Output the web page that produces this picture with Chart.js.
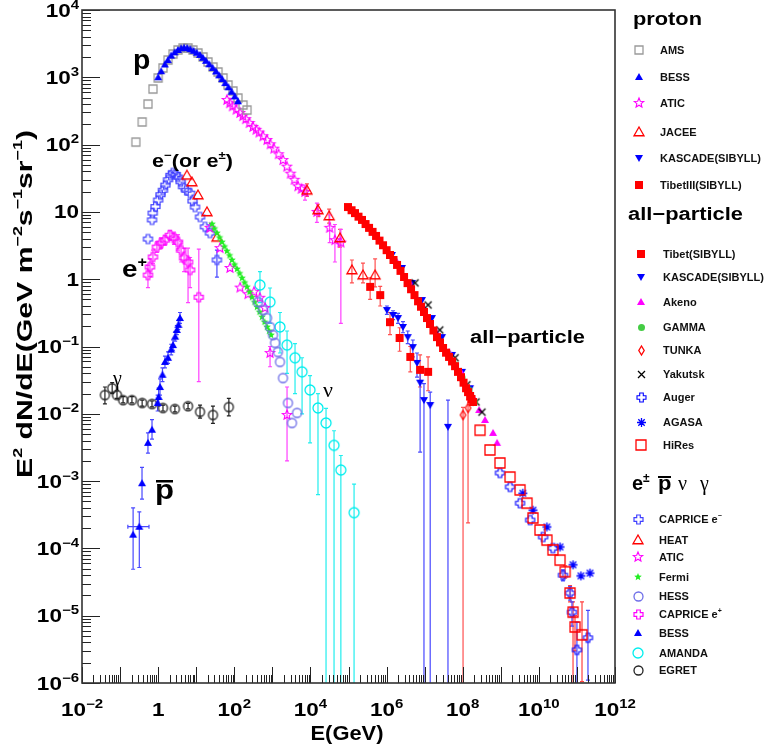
<!DOCTYPE html>
<html>
<head>
<meta charset="utf-8">
<script src="https://cdn.jsdelivr.net/npm/chart.js@4.4.0/dist/chart.umd.min.js"></script>
<style>
  body { margin: 0; background: #fff; }
  canvas { display: block; }
</style>
</head>
<body>
<canvas id="crChart" width="773" height="749" style="width:773px;height:749px"></canvas>
<script>
// ---------------- data (E in GeV, E^2 dN/dE in GeV m^-2 s^-1 sr^-1) ----------------

// proton
const amsE = [0.26, 0.38, 0.54, 0.73, 1.0, 1.34, 1.82, 2.46, 3.33, 4.5, 6.1, 8.2, 11.1, 15.1, 20.4, 27.6, 37.4, 50.6, 68.4, 92.5, 125, 170, 216];
const amsF = [109, 217, 401, 670, 977, 1375, 1807, 2218, 2547, 2725, 2725, 2547, 2297, 2003, 1688, 1422, 1199, 977, 769, 626, 492, 387, 326];

const bessE = [1.0, 1.2, 1.5, 1.8, 2.2, 2.7, 3.3, 4.0, 4.8, 5.8, 7.0, 8.5, 10.3, 12.5, 15, 18, 22, 27, 33, 40, 48, 58, 70, 85, 103, 125];
const bessF = [1000, 1230, 1550, 1800, 2100, 2350, 2550, 2700, 2760, 2720, 2620, 2480, 2320, 2150, 1950, 1760, 1560, 1380, 1220, 1070, 940, 820, 710, 610, 520, 440];

const aticPE = [64, 76, 90, 113, 141, 168, 200, 250, 309, 375, 450, 570, 724, 890, 1100, 1450, 1910, 2400, 3000, 3800, 4700, 5800, 7200, 14800, 32000, 44000, 63000];
const aticPF = [460, 412, 370, 330, 295, 265, 239, 209, 183, 166, 151, 133, 117, 101, 87, 72, 59, 47, 37, 30, 24, 22, 19.8, 10.0, 5.8, 3.8, 3.5];
const aticPLo = [null, null, null, null, null, null, null, null, null, null, null, null, null, null, null, null, null, null, null, null, null, null, 15, 7.0, 3.5, 1.8, 0.22];
const aticPHi = [null, null, null, null, null, null, null, null, null, null, null, null, null, null, null, null, null, null, null, null, null, null, 25, 13.5, 9, 6.5, 5.5];

const jaceeE = [8100, 15800, 31000, 60000, 1.23e5, 2.4e5, 5.0e5];
const jaceeF = [21, 10.7, 8.7, 4.1, 1.37, 1.15, 1.15];
const jaceeLo = [17, 8.5, 6.8, 3.0, 0.88, 0.88, 0.77];
const jaceeHi = [26, 13, 11, 5.5, 1.93, 1.73, 2.0];

const kasPE = [1.02e6, 1.48e6, 2.0e6, 2.7e6, 3.6e6, 4.9e6, 6.3e6, 7.6e6, 9.6e6, 1.4e7, 4.1e7];
const kasPF = [0.348, 0.294, 0.265, 0.195, 0.138, 0.098, 0.057, 0.029, 0.016, 0.0135, 0.0064];
const kasPLo = [0.30, 0.25, 0.22, 0.16, 0.11, 0.07, 0.035, 0.0027, 1e-8, 1e-8, 1e-8];
const kasPHi = [0.40, 0.34, 0.31, 0.235, 0.17, 0.125, 0.08, 0.045, 0.028, 0.021, 0.016];

const tibet3E = [3.7e5, 6.8e5, 1.23e6, 2.2e6, 4.2e6, 7.6e6, 1.23e7];
const tibet3F = [0.77, 0.58, 0.23, 0.134, 0.07, 0.045, 0.042];
const tibet3Lo = [0.50, 0.40, 0.15, 0.085, 0.042, 0.025, 0.022];
const tibet3Hi = [1.05, 0.78, 0.32, 0.19, 0.10, 0.075, 0.07];

// all-particle
const tibetE = [9.7e4, 1.2e5, 1.48e5, 1.83e5, 2.26e5, 2.8e5, 3.46e5, 4.27e5, 5.28e5, 6.5e5, 8.06e5, 1.0e6, 1.23e6, 1.52e6, 1.88e6, 2.32e6, 2.87e6, 3.55e6, 4.39e6, 5.4e6, 6.7e6, 8.0e6, 9.6e6, 1.15e7, 1.38e7, 1.7e7, 2.11e7, 2.53e7, 3.04e7, 3.65e7, 4.37e7, 5.25e7, 6.28e7, 7.5e7, 9.0e7, 1.05e8, 1.22e8, 1.38e8, 1.56e8, 1.7e8, 1.87e8];
const tibetF = [11.8, 10.6, 9.6, 8.5, 7.6, 6.6, 5.8, 5.05, 4.4, 3.75, 3.2, 2.7, 2.29, 1.93, 1.63, 1.33, 1.08, 0.875, 0.71, 0.58, 0.47, 0.39, 0.326, 0.265, 0.216, 0.173, 0.138, 0.115, 0.095, 0.081, 0.070, 0.060, 0.051, 0.042, 0.035, 0.029, 0.024, 0.021, 0.0184, 0.0166, 0.015];

const kasE = [1.38e6, 2.54e6, 4.65e6, 8.5e6, 1.56e7, 2.86e7, 5.25e7, 9.6e7, 1.56e8];
const kasF = [2.29, 1.47, 0.88, 0.49, 0.265, 0.138, 0.075, 0.042, 0.024];

const akenoE = [1.88e6, 4.4e6, 9.6e6, 2.1e7, 4.4e7, 9.0e7, 1.74e8, 2.7e8, 3.85e8, 6.25e8, 8.0e8];
const akenoF = [1.8, 0.82, 0.373, 0.158, 0.083, 0.042, 0.019, 0.0114, 0.0081, 0.0052, 0.0037];

const gammaE = [3.9e7, 6.3e7, 9.6e7, 1.46e8, 2.0e8];
const gammaF = [0.080, 0.053, 0.034, 0.0226, 0.015];

const tunkaE = [1.02e8, 1.38e8];
const tunkaF = [0.0096, 0.0122];
const tunkaLo = [1e-8, 2.4e-4];
const tunkaHi = [0.0125, 0.016];

const yakE = [5.6e6, 1.23e7, 2.5e7, 6.3e7, 1.29e8, 2.24e8, 3.2e8];
const yakF = [0.88, 0.414, 0.176, 0.068, 0.027, 0.015, 0.0106];

const augerE = [9.5e8, 1.75e9, 3.2e9, 5.9e9, 1.29e10, 2.34e10, 4.3e10, 6.6e10, 7.4e10, 1.0e11, 1.95e11];
const augerF = [1.32e-3, 8.2e-4, 4.7e-4, 2.64e-4, 1.48e-4, 1.01e-4, 4.0e-5, 2.17e-5, 1.13e-5, 3.1e-6, 4.7e-6];
const augerLo = [null, null, null, null, null, null, 3.3e-5, 1.7e-5, 7e-6, 1e-8, 1.1e-6];
const augerHi = [null, null, null, null, null, null, 4.8e-5, 2.7e-5, 1.6e-5, 8e-6, 1.2e-5];

const agasaE = [3.8e9, 7.0e9, 1.63e10, 3.6e10, 7.9e10, 1.27e11, 2.2e11];
const agasaF = [6.6e-4, 3.7e-4, 2.08e-4, 1.05e-4, 5.7e-5, 3.9e-5, 4.3e-5];

const hiresE = [2.85e8, 5.2e8, 9.5e8, 1.75e9, 3.2e9, 4.9e9, 7.0e9, 1.07e10, 1.63e10, 2.34e10, 3.6e10, 4.9e10, 6.6e10, 7.9e10, 8.9e10, 1.36e11];
const hiresF = [5.7e-3, 2.9e-3, 1.86e-3, 1.15e-3, 7.4e-4, 4.7e-4, 2.83e-4, 1.88e-4, 1.33e-4, 9.5e-5, 6.7e-5, 4.5e-5, 2.17e-5, 1.13e-5, 6.8e-6, 5.2e-6];
const hiresLo = [null, null, null, null, null, null, null, null, null, null, null, 3.6e-5, 1.6e-5, 1e-8, 3e-6, 1.05e-6];
const hiresHi = [null, null, null, null, null, null, null, null, null, null, null, 5.5e-5, 2.8e-5, 1.6e-5, 1.0e-5, 1.6e-5];

// e+-, pbar, nu, gamma
const capEmE = [0.54, 0.69, 0.72, 0.85, 1.0, 1.15, 1.34, 1.55, 1.82, 2.1, 2.46, 2.9, 3.3, 3.9, 4.5, 5.5, 6.9, 8.0, 9.3, 12.6, 17, 23, 35];
const capEmF = [3.95, 7.6, 9.6, 12, 15, 18, 21, 25, 30, 35, 38, 36, 33, 28, 23.6, 21, 19, 14.5, 11.8, 8.4, 6.0, 4.85, 1.93];
const capEmLo = [null, null, null, null, null, null, null, null, null, null, null, null, null, null, null, null, null, null, null, null, null, null, 1.07];
const capEmHi = [null, null, null, null, null, null, null, null, null, null, null, null, null, null, null, null, null, null, null, null, null, null, 2.7];

const heatE = [5.7, 7.7, 11.1, 19.2, 35];
const heatF = [35, 27.8, 17.8, 10, 4.2];

const aticEE = [23, 42, 77, 142, 230, 330, 470, 640, 870, 2430];
const aticEF = [5.8, 2.9, 1.47, 0.75, 0.60, 0.65, 0.53, 0.375, 0.080, 0.0096];
const aticELo = [null, null, null, null, null, null, null, null, 0.05, 0.002];
const aticEHi = [null, null, null, null, null, null, null, null, 0.10, 0.025];

const fermiE = [26, 30, 35, 41, 47.5, 55, 64, 75, 87, 101, 118, 138, 160, 186, 216, 251, 292, 340, 395, 460, 535, 622, 724, 820, 922];
const fermiF = [6.6, 5.65, 4.85, 4.15, 3.57, 3.05, 2.62, 2.25, 1.93, 1.65, 1.42, 1.22, 1.04, 0.89, 0.77, 0.645, 0.54, 0.455, 0.386, 0.325, 0.274, 0.231, 0.195, 0.17, 0.148];

const hessE = [420, 568, 724, 870, 1040, 1175, 1400, 1585, 1900, 2570, 3280, 4450];
const hessF = [0.458, 0.348, 0.265, 0.195, 0.148, 0.113, 0.083, 0.059, 0.034, 0.0145, 0.0073, 0.0103];

const capEpE = [0.54, 0.61, 0.73, 0.93, 1.19, 1.51, 2.04, 2.6, 3.3, 4.0, 4.8, 6.1, 6.9, 11.7];
const capEpF = [1.15, 1.52, 2.14, 3.0, 3.45, 3.82, 4.5, 4.1, 3.57, 2.7, 2.07, 1.8, 1.37, 0.54];
const capEpLo = [0.75, 1.1, 1.7, 2.5, 2.9, 3.2, 3.8, 3.3, 2.7, 1.8, 1.3, 0.45, 0.75, 0.03];
const capEpHi = [1.6, 2.0, 2.7, 3.6, 4.1, 4.5, 5.3, 5.0, 4.6, 3.6, 2.9, 2.9, 2.1, 2.8];

const pbarE = [0.22, 0.32, 0.377, 0.54, 0.69, 0.97, 1.03, 1.12, 1.3, 1.51, 1.82, 2.2, 2.46, 2.8, 3.1, 3.4, 3.75];
const pbarF = [1.6e-4, 2.1e-4, 9.3e-4, 0.0037, 0.0058, 0.0145, 0.0178, 0.025, 0.038, 0.059, 0.068, 0.09, 0.105, 0.14, 0.176, 0.21, 0.265];
const pbarLo = [4.9e-5, 5.2e-5, 5.4e-4, 0.0026, 0.0042, 0.011, 0.013, 0.019, 0.03, 0.048, 0.056, 0.075, 0.088, 0.12, 0.15, 0.18, 0.22];
const pbarHi = [4.0e-4, 3.5e-4, 1.6e-3, 0.0052, 0.0082, 0.019, 0.024, 0.033, 0.048, 0.072, 0.083, 0.108, 0.125, 0.165, 0.205, 0.245, 0.32];
const pbarXLo = [null, 0.16, null, null, null, null, null, null, null, null, null, null, null, null, null, null, null];
const pbarXHi = [null, 0.575, null, null, null, null, null, null, null, null, null, null, null, null, null, null, null];

const amandaE = [473, 870, 1585, 2430, 3940, 6030, 9770, 1.58e4, 2.57e4, 4.17e4, 6.3e4, 1.4e5];
const amandaF = [0.82, 0.458, 0.195, 0.105, 0.068, 0.042, 0.0226, 0.0122, 0.0073, 0.0034, 0.00146, 3.4e-4];
const amandaLo = [0.45, 0.22, 0.08, 0.04, 0.02, 0.01, 0.0037, 6.3e-4, 1e-8, 1e-8, 1e-8, 1e-8];
const amandaHi = [1.3, 0.74, 0.32, 0.17, 0.11, 0.068, 0.037, 0.02, 0.012, 0.0056, 0.0024, 9e-4];

const egretE = [0.04, 0.062, 0.083, 0.12, 0.205, 0.38, 0.69, 1.34, 2.76, 6.1, 12.6, 27.5, 72];
const egretF = [0.019, 0.024, 0.019, 0.016, 0.016, 0.0145, 0.014, 0.0122, 0.0118, 0.013, 0.0107, 0.0096, 0.0126];
const egretLo = [0.014, 0.02, 0.017, 0.0145, 0.0145, 0.013, 0.0127, 0.011, 0.0107, 0.0118, 0.0086, 0.0072, 0.0093];
const egretHi = [0.025, 0.029, 0.022, 0.018, 0.018, 0.016, 0.0155, 0.0135, 0.013, 0.0143, 0.0135, 0.013, 0.017];

// axis range and labelled decades
const xRange = [1e-2, 1e12];
const yRange = [1e-6, 1e4];
const xLabelExps = [-2, 0, 2, 4, 6, 8, 10, 12];
const yLabelExps = [-6, -5, -4, -3, -2, -1, 0, 1, 2, 3, 4];

// ---------------- markers ----------------
const SANS = '"Liberation Sans", Arial, Helvetica, sans-serif';
const SERIF = '"Liberation Serif", "Times New Roman", serif';

function makeMarker(shape, size, color, filled, lw) {
    const s = Math.ceil(size) + 4;
    const c = document.createElement('canvas');
    c.width = s;
    c.height = s;
    const g = c.getContext('2d');
    g.translate(s / 2, s / 2);
    g.strokeStyle = color;
    g.fillStyle = color;
    g.lineWidth = lw || 1.3;
    const r = size / 2;
    g.beginPath();
    if (shape === 'square') {
        g.rect(-r, -r, size, size);
    } else if (shape === 'circle') {
        g.arc(0, 0, r, 0, Math.PI * 2);
    } else if (shape === 'triangle') {
        g.moveTo(0, -r); g.lineTo(r, r * 0.75); g.lineTo(-r, r * 0.75); g.closePath();
    } else if (shape === 'triangleDown') {
        g.moveTo(0, r); g.lineTo(r, -r * 0.75); g.lineTo(-r, -r * 0.75); g.closePath();
    } else if (shape === 'diamond') {
        g.moveTo(0, -r); g.lineTo(r * 0.6, 0); g.lineTo(0, r); g.lineTo(-r * 0.6, 0); g.closePath();
    } else if (shape === 'star') {
        for (let i = 0; i < 10; i++) {
            const a = -Math.PI / 2 + i * Math.PI / 5;
            const rr = i % 2 ? r * 0.45 : r;
            g.lineTo(rr * Math.cos(a), rr * Math.sin(a));
        }
        g.closePath();
    } else if (shape === 'plus') {
        const t = r * 0.4;
        const pts = [[-t, -r], [t, -r], [t, -t], [r, -t], [r, t], [t, t], [t, r], [-t, r], [-t, t], [-r, t], [-r, -t], [-t, -t]];
        pts.forEach((p, i) => i ? g.lineTo(p[0], p[1]) : g.moveTo(p[0], p[1]));
        g.closePath();
    } else if (shape === 'x') {
        g.moveTo(-r, -r); g.lineTo(r, r); g.moveTo(r, -r); g.lineTo(-r, r);
    } else if (shape === 'asterisk') {
        for (let i = 0; i < 4; i++) {
            const a = i * Math.PI / 4;
            g.moveTo(-r * Math.cos(a), -r * Math.sin(a));
            g.lineTo(r * Math.cos(a), r * Math.sin(a));
        }
    }
    if (filled) g.fill(); else g.stroke();
    if (shape === 'asterisk') {
        g.beginPath(); g.arc(0, 0, 1.6, 0, Math.PI * 2); g.fill();
    }
    return c;
}

const BLUE = '#0000ff', RED = '#ff0000', MAG = '#ff00ff';
const mk = {
    ams: makeMarker('square', 8, '#9a9a9a', false),
    bess: makeMarker('triangle', 8, BLUE, true),
    aticP: makeMarker('star', 10, MAG, false, 1.1),
    jacee: makeMarker('triangle', 10, RED, false),
    kasP: makeMarker('triangleDown', 8, BLUE, true),
    tibet3: makeMarker('square', 8, RED, true),
    tibet: makeMarker('square', 8, RED, true),
    kas: makeMarker('triangleDown', 8, BLUE, true),
    akeno: makeMarker('triangle', 8, MAG, true),
    gamma: makeMarker('circle', 7, '#44cc44', true),
    tunka: makeMarker('diamond', 9, RED, false),
    yak: makeMarker('x', 7, '#000000', false),
    auger: makeMarker('plus', 9, BLUE, false, 1.1),
    agasa: makeMarker('asterisk', 9, BLUE, false),
    hires: makeMarker('square', 10, RED, false),
    capEm: makeMarker('plus', 9, '#4040ff', false, 1.2),
    heat: makeMarker('triangle', 10, RED, false),
    aticE: makeMarker('star', 10, MAG, false, 1.1),
    fermi: makeMarker('star', 8, '#22ee22', true),
    hess: makeMarker('circle', 9, '#6e6ee8', false),
    capEp: makeMarker('plus', 9, MAG, false, 1.2),
    pbar: makeMarker('triangle', 8, BLUE, true),
    amanda: makeMarker('circle', 10, '#00eeee', false),
    egret: makeMarker('circle', 9, '#222222', false)
};

function series(label, xs, ys, style, err) {
    err = err || {};
    return {
        label: label,
        data: xs.map((x, i) => ({ x: x, y: ys[i] })),
        pointStyle: style,
        pointRadius: 4,
        pointHoverRadius: 4,
        errLo: err.lo, errHi: err.hi, errXLo: err.xlo, errXHi: err.xhi,
        errColor: err.color
    };
}

// first dataset is drawn on top
const datasets = [
    series('TibetIII(SIBYLL)', tibet3E, tibet3F, mk.tibet3, { lo: tibet3Lo, hi: tibet3Hi, color: '#ff5050' }),
    series('JACEE', jaceeE, jaceeF, mk.jacee, { lo: jaceeLo, hi: jaceeHi, color: '#ff5050' }),
    series('KASCADE(SIBYLL) p', kasPE, kasPF, mk.kasP, { lo: kasPLo, hi: kasPHi, color: '#4848ff' }),
    series('HiRes', hiresE, hiresF, mk.hires, { lo: hiresLo, hi: hiresHi, color: '#ff4040' }),
    series('AGASA', agasaE, agasaF, mk.agasa),
    series('Auger', augerE, augerF, mk.auger, { lo: augerLo, hi: augerHi, color: '#4848ff' }),
    series('Tibet(SIBYLL)', tibetE, tibetF, mk.tibet),
    series('GAMMA', gammaE, gammaF, mk.gamma),
    series('Yakutsk', yakE, yakF, mk.yak),
    series('Akeno', akenoE, akenoF, mk.akeno),
    series('KASCADE(SIBYLL)', kasE, kasF, mk.kas),
    series('TUNKA', tunkaE, tunkaF, mk.tunka, { lo: tunkaLo, hi: tunkaHi, color: '#ff5050' }),
    series('BESS', bessE, bessF, mk.bess),
    series('AMS', amsE, amsF, mk.ams),
    series('ATIC', aticPE, aticPF, mk.aticP, { lo: aticPLo, hi: aticPHi, color: '#ff40ff' }),
    series('HESS', hessE, hessF, mk.hess),
    series('Fermi', fermiE, fermiF, mk.fermi),
    series('ATIC e', aticEE, aticEF, mk.aticE, { lo: aticELo, hi: aticEHi, color: '#ff40ff' }),
    series('HEAT', heatE, heatF, mk.heat),
    series('CAPRICE e-', capEmE, capEmF, mk.capEm, { lo: capEmLo, hi: capEmHi, color: '#4848ff' }),
    series('CAPRICE e+', capEpE, capEpF, mk.capEp, { lo: capEpLo, hi: capEpHi, color: '#ff40ff' }),
    series('BESS pbar', pbarE, pbarF, mk.pbar, { lo: pbarLo, hi: pbarHi, xlo: pbarXLo, xhi: pbarXHi, color: '#4848ff' }),
    series('AMANDA', amandaE, amandaF, mk.amanda, { lo: amandaLo, hi: amandaHi, color: '#22eeee' }),
    series('EGRET', egretE, egretF, mk.egret, { lo: egretLo, hi: egretHi, color: '#222222' })
];

// ---------------- text helper ----------------
function richText(ctx, parts, x, y, opt) {
    opt = opt || {};
    ctx.save();
    ctx.translate(x, y);
    if (opt.rotate) ctx.rotate(opt.rotate);
    let w = 0;
    parts.forEach(p => { ctx.font = p.f; p.w = ctx.measureText(p.t).width; w += p.w; });
    const sx = opt.target ? opt.target / w : (opt.sx || 1);
    ctx.scale(sx, 1);
    let cx = opt.align === 'right' ? -w : opt.align === 'center' ? -w / 2 : 0;
    ctx.fillStyle = opt.color || '#000';
    ctx.textAlign = 'left';
    ctx.textBaseline = 'alphabetic';
    parts.forEach(p => {
        ctx.font = p.f;
        ctx.fillText(p.t, cx, p.dy || 0);
        cx += p.w;
    });
    ctx.restore();
}

function decadeLabel(e) {
    const base = { t: e === 0 ? '1' : '10', f: 'bold 18px ' + SANS };
    if (e === 0 || e === 1) return [base];
    return [base, { t: String(e).replace('-', '\u2212'), f: 'bold 12px ' + SANS, dy: -8 }];
}

// ---------------- plugins ----------------
const errorBars = {
    id: 'errorBars',
    beforeDatasetsDraw(chart) {
        const { ctx, chartArea: a, scales: { x, y } } = chart;
        ctx.save();
        ctx.beginPath();
        ctx.rect(a.left, a.top, a.right - a.left, a.bottom - a.top);
        ctx.clip();
        ctx.lineWidth = 1.2;
        chart.data.datasets.forEach(ds => {
            if (!ds.errLo && !ds.errXLo) return;
            ctx.strokeStyle = ds.errColor;
            ds.data.forEach((p, i) => {
                const px = x.getPixelForValue(p.x);
                const py = y.getPixelForValue(p.y);
                ctx.beginPath();
                if (ds.errLo && ds.errLo[i] != null) {
                    const y1 = y.getPixelForValue(ds.errLo[i]);
                    const y2 = y.getPixelForValue(ds.errHi[i]);
                    ctx.moveTo(px, y1); ctx.lineTo(px, y2);
                    ctx.moveTo(px - 2, y1); ctx.lineTo(px + 2, y1);
                    ctx.moveTo(px - 2, y2); ctx.lineTo(px + 2, y2);
                }
                if (ds.errXLo && ds.errXLo[i] != null) {
                    const x1 = x.getPixelForValue(ds.errXLo[i]);
                    const x2 = x.getPixelForValue(ds.errXHi[i]);
                    ctx.moveTo(x1, py); ctx.lineTo(x2, py);
                    ctx.moveTo(x1, py - 2); ctx.lineTo(x1, py + 2);
                    ctx.moveTo(x2, py - 2); ctx.lineTo(x2, py + 2);
                }
                ctx.stroke();
            });
        });
        ctx.restore();
    }
};

const frameAndAxes = {
    id: 'frameAndAxes',
    afterDraw(chart) {
        const { ctx, chartArea: a, scales: { x, y } } = chart;
        ctx.save();
        // ticks pointing inwards, ROOT style
        ctx.strokeStyle = '#222';
        ctx.lineWidth = 1;
        ctx.beginPath();
        for (let e = -6; e <= 4; e++) {
            for (let m = 1; m <= 9; m++) {
                const v = m * Math.pow(10, e);
                if (v > yRange[1] * 1.0001) break;
                const py = Math.round(y.getPixelForValue(v)) + 0.5;
                const len = m === 1 ? 18 : 9;
                ctx.moveTo(a.left, py); ctx.lineTo(a.left + len, py);
            }
        }
        for (let e = -2; e <= 12; e++) {
            for (let m = 1; m <= 9; m++) {
                const v = m * Math.pow(10, e);
                if (v > xRange[1] * 1.0001) break;
                const px = Math.round(x.getPixelForValue(v)) + 0.5;
                const len = m === 1 ? 16 : 8;
                ctx.moveTo(px, a.bottom); ctx.lineTo(px, a.bottom - len);
            }
        }
        ctx.stroke();
        // frame
        ctx.strokeStyle = '#333';
        ctx.lineWidth = 1.6;
        ctx.strokeRect(a.left, a.top, a.right - a.left, a.bottom - a.top);

        // tick labels
        yLabelExps.forEach(e => {
            const py = y.getPixelForValue(Math.pow(10, e));
            richText(ctx, decadeLabel(e), 79, py + 6.5, { align: 'right', sx: 1.25 });
        });
        xLabelExps.forEach(e => {
            const px = x.getPixelForValue(Math.pow(10, e));
            richText(ctx, decadeLabel(e), px, 716, { align: 'center', sx: 1.25 });
        });

        // axis titles
        const B = 'bold 22px ' + SANS, S = 'bold 13px ' + SANS;
        richText(ctx, [
            { t: 'E', f: B }, { t: '2', f: S, dy: -10 }, { t: ' dN/dE(GeV m', f: B },
            { t: '\u22122', f: S, dy: -10 }, { t: 's', f: B }, { t: '\u22121', f: S, dy: -10 },
            { t: 'sr', f: B }, { t: '\u22121', f: S, dy: -10 }, { t: ')', f: B }
        ], 32, 304, { align: 'center', rotate: -Math.PI / 2, target: 348 });
        richText(ctx, [{ t: 'E(GeV)', f: 'bold 20px ' + SANS }], 347, 740, { align: 'center', target: 73 });

        // labels inside the frame
        richText(ctx, [{ t: 'p', f: 'bold 27px ' + SANS }], 133, 69, { sx: 1.05 });
        richText(ctx, [
            { t: 'e', f: 'bold 18px ' + SANS }, { t: '\u2212', f: 'bold 11px ' + SANS, dy: -8 },
            { t: '(or e', f: 'bold 18px ' + SANS }, { t: '\u00b1', f: 'bold 11px ' + SANS, dy: -8 },
            { t: ')', f: 'bold 18px ' + SANS }
        ], 152, 167, { target: 81 });
        richText(ctx, [{ t: 'e', f: 'bold 24px ' + SANS }, { t: '+', f: 'bold 14px ' + SANS, dy: -10 }], 122, 277, { target: 25 });
        richText(ctx, [{ t: '\u03b3', f: '20px ' + SERIF }], 113, 385);
        richText(ctx, [{ t: 'p', f: 'bold 27px ' + SANS }], 155, 499, { sx: 1.15 });
        ctx.fillStyle = '#000';
        ctx.fillRect(156, 480, 17, 2.5);
        richText(ctx, [{ t: '\u03bd', f: '22px ' + SERIF }], 323, 397);
        richText(ctx, [{ t: 'all\u2212particle', f: 'bold 18px ' + SANS }], 470, 343, { target: 115 });

        // legend
        const putMarker = (img, mx, my) => ctx.drawImage(img, Math.round(mx - img.width / 2), Math.round(my - img.height / 2));
        const LF = 'bold 11px ' + SANS;
        const entry = (img, mx, tx, ty, parts) => {
            putMarker(img, mx, ty);
            richText(ctx, parts, tx, ty + 4, { color: '#111' });
        };
        const plain = t => [{ t: t, f: LF }];

        richText(ctx, [{ t: 'proton', f: 'bold 18px ' + SANS }], 633, 25, { target: 69 });
        entry(mk.ams, 639, 660, 50, plain('AMS'));
        entry(mk.bess, 639, 660, 77, plain('BESS'));
        entry(mk.aticP, 639, 660, 103, plain('ATIC'));
        entry(mk.jacee, 639, 660, 132, plain('JACEE'));
        entry(mk.kasP, 639, 660, 158, plain('KASCADE(SIBYLL)'));
        entry(mk.tibet3, 639, 660, 185, plain('TibetIII(SIBYLL)'));

        richText(ctx, [{ t: 'all\u2212particle', f: 'bold 18px ' + SANS }], 628, 220, { target: 115 });
        entry(mk.tibet, 641, 663, 254, plain('Tibet(SIBYLL)'));
        entry(mk.kas, 641, 663, 277, plain('KASCADE(SIBYLL)'));
        entry(mk.akeno, 641, 663, 302, plain('Akeno'));
        entry(mk.gamma, 641, 663, 327, plain('GAMMA'));
        entry(mk.tunka, 641, 663, 350, plain('TUNKA'));
        entry(mk.yak, 641, 663, 374, plain('Yakutsk'));
        entry(mk.auger, 641, 663, 397, plain('Auger'));
        entry(mk.agasa, 641, 663, 422, plain('AGASA'));
        entry(mk.hires, 641, 663, 445, plain('HiRes'));

        richText(ctx, [{ t: 'e', f: 'bold 20px ' + SANS }, { t: '\u00b1', f: 'bold 12px ' + SANS, dy: -8 }], 632, 490);
        richText(ctx, [{ t: 'p', f: 'bold 20px ' + SANS }], 658, 490, { sx: 1.1 });
        ctx.fillStyle = '#000';
        ctx.fillRect(658, 476, 13, 2);
        richText(ctx, [{ t: '\u03bd', f: '20px ' + SERIF }], 678, 490);
        richText(ctx, [{ t: '\u03b3', f: '20px ' + SERIF }], 700, 490);

        entry(mk.capEm, 638, 659, 519, [{ t: 'CAPRICE e', f: LF }, { t: '\u2212', f: 'bold 7px ' + SANS, dy: -5 }]);
        entry(mk.heat, 638, 659, 540, plain('HEAT'));
        entry(mk.aticE, 638, 659, 557, plain('ATIC'));
        entry(mk.fermi, 638, 659, 577, plain('Fermi'));
        entry(mk.hess, 638, 659, 596, plain('HESS'));
        entry(mk.capEp, 638, 659, 614, [{ t: 'CAPRICE e', f: LF }, { t: '+', f: 'bold 7px ' + SANS, dy: -5 }]);
        entry(mk.pbar, 638, 659, 633, plain('BESS'));
        entry(mk.amanda, 638, 659, 653, plain('AMANDA'));
        entry(mk.egret, 638, 659, 670, plain('EGRET'));
        ctx.restore();
    }
};

// ---------------- chart ----------------
const ctx = document.getElementById('crChart').getContext('2d');
new Chart(ctx, {
    type: 'scatter',
    data: { datasets: datasets },
    options: {
        responsive: false,
        animation: false,
        devicePixelRatio: 1,
        layout: { padding: { left: 82, right: 158, top: 10, bottom: 66 } },
        plugins: {
            legend: { display: false },
            tooltip: { enabled: false }
        },
        scales: {
            x: { type: 'logarithmic', min: xRange[0], max: xRange[1], display: false },
            y: { type: 'logarithmic', min: yRange[0], max: yRange[1], display: false }
        }
    },
    plugins: [errorBars, frameAndAxes]
});
</script>
</body>
</html>
